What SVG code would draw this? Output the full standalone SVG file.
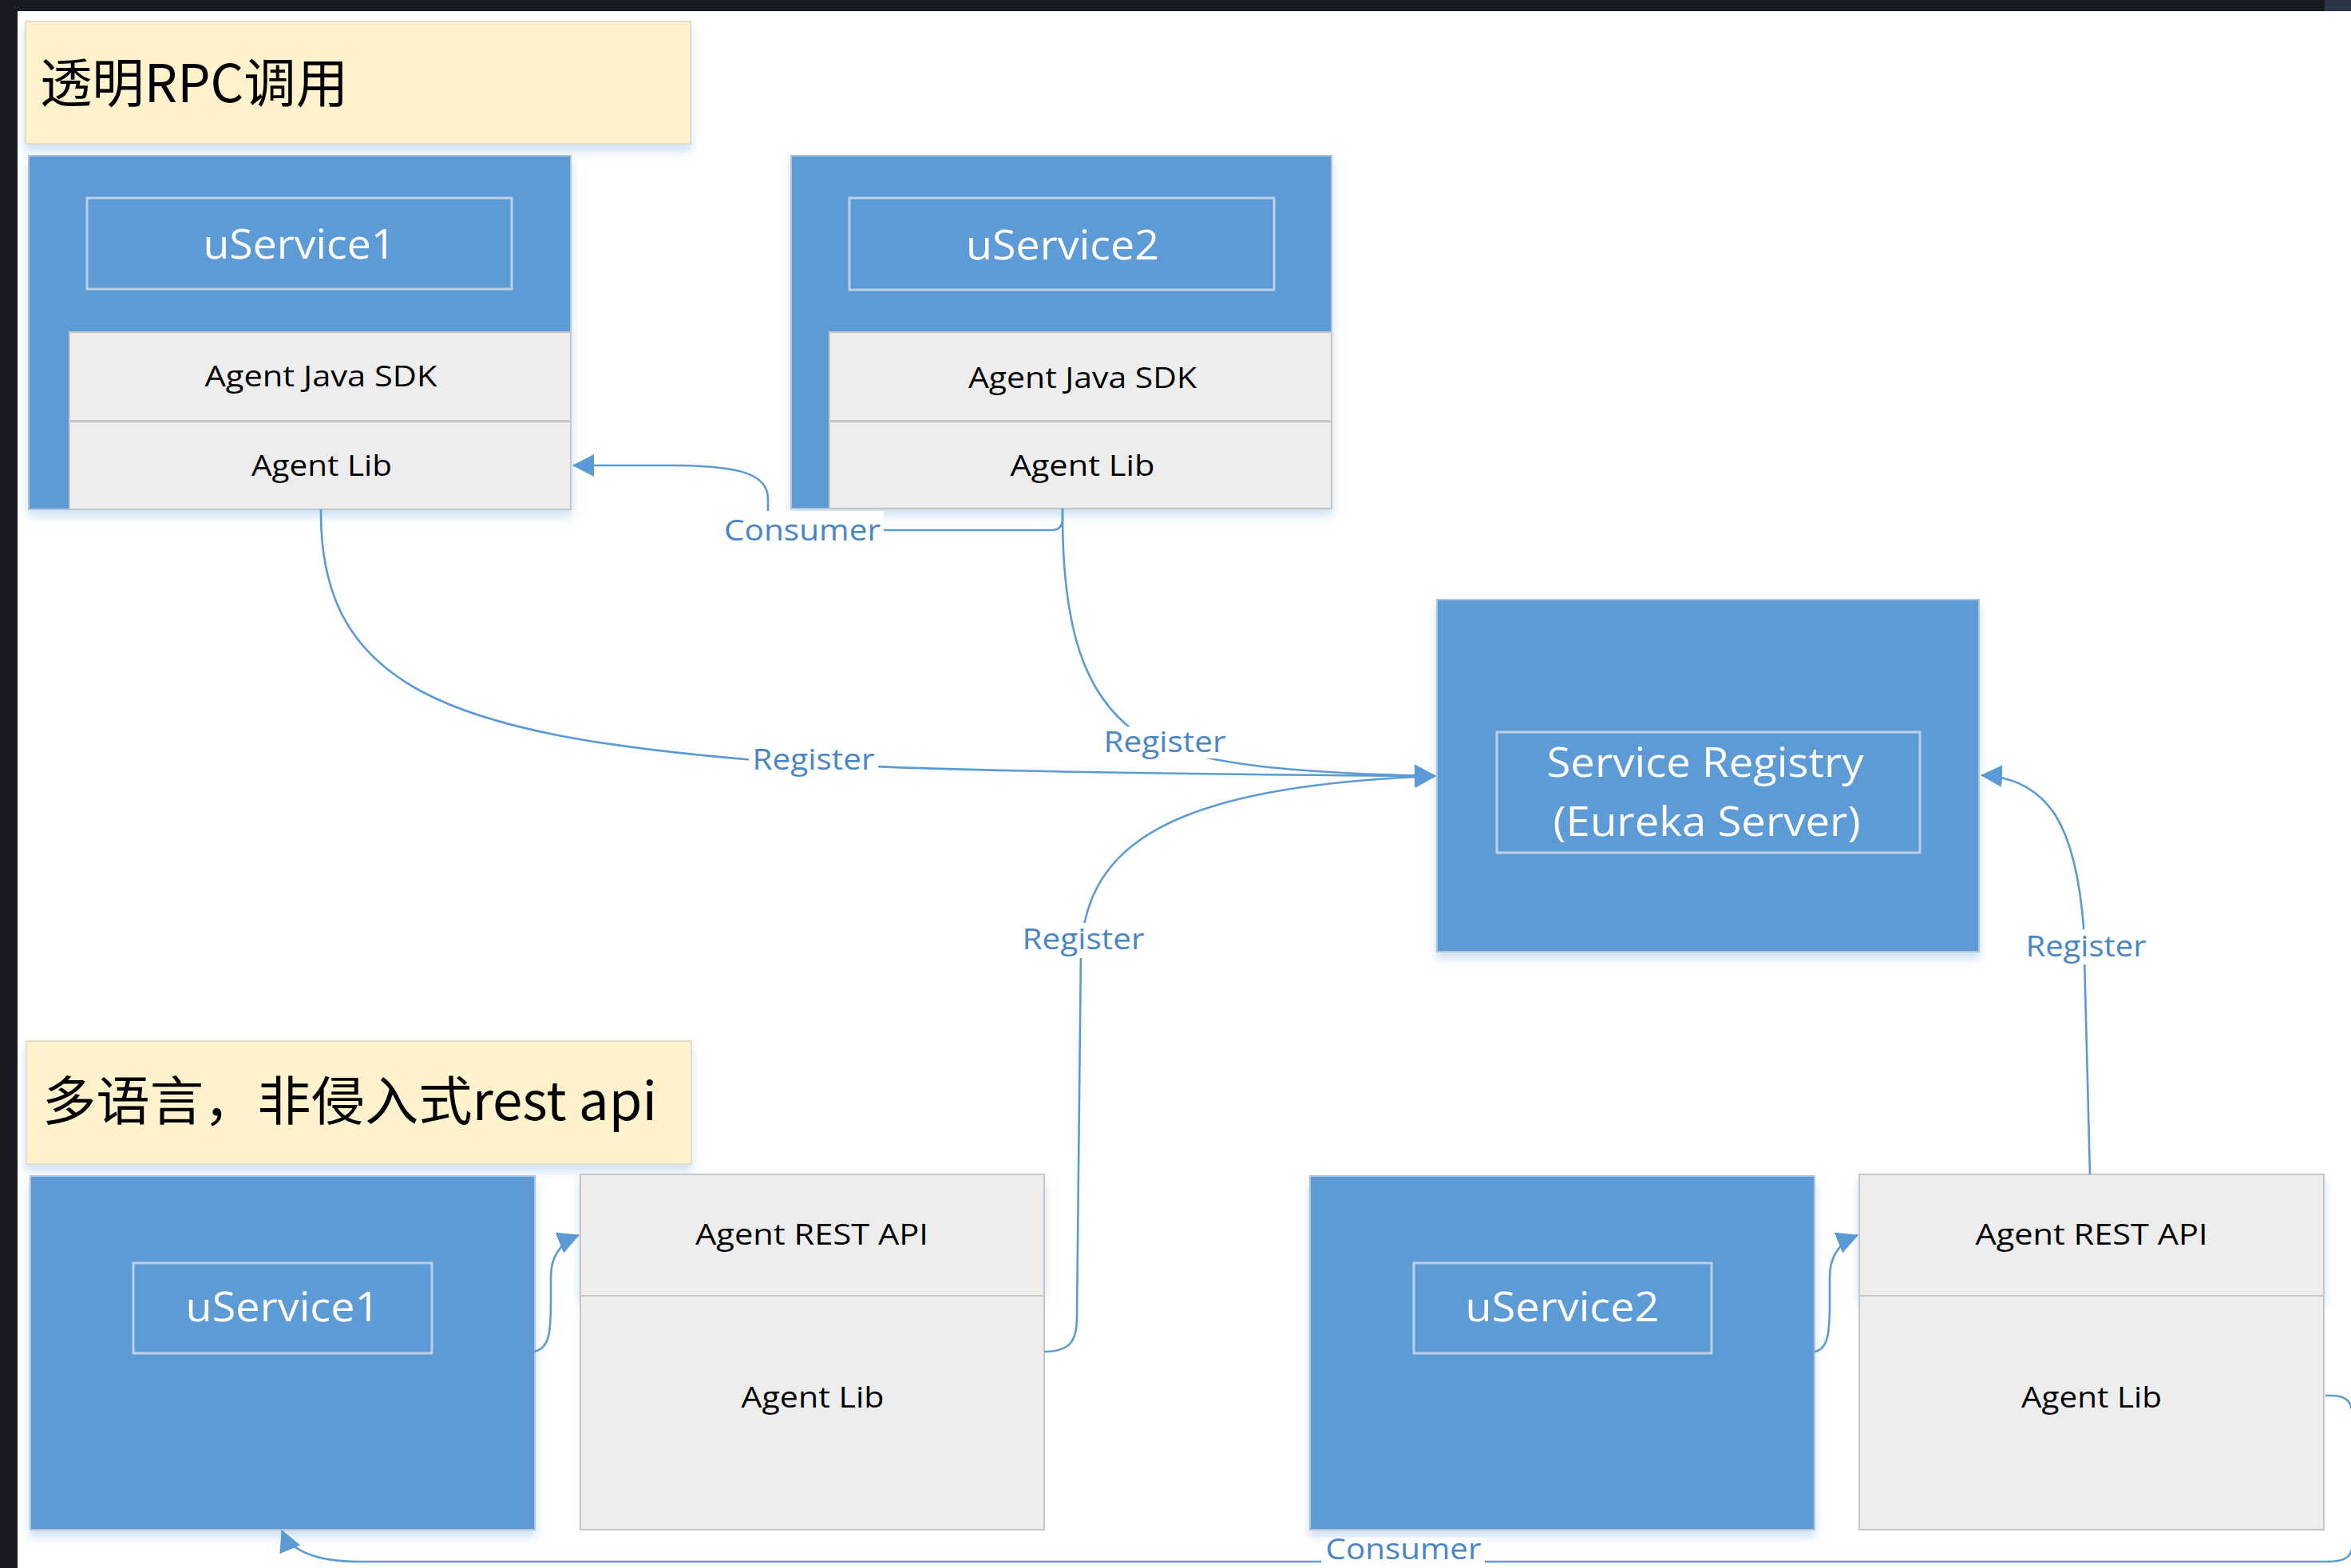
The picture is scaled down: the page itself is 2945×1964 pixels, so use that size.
<svg xmlns="http://www.w3.org/2000/svg" width="2945" height="1964" viewBox="0 0 2945 1964">
<defs>
<style>
.frame{fill:#181b23}
.title{fill:#FFF2CC;stroke:#E3DCC8;stroke-width:2}
.blue{fill:#5B9BD5;stroke:#B4C4D6;stroke-width:2}
.inner{fill:none;stroke:#BDD0E6;stroke-width:3}
.gray{fill:#EDEDED;stroke:#C6C6C6;stroke-width:2}
.cn{fill:none;stroke:#5B9BD5;stroke-width:2.6}
.lbg{fill:#FFFFFF}
.tt{font-family:"Noto Sans CJK SC","Noto Sans",sans-serif;font-size:66px;fill:#000}
.wt{font-family:"Open Sans","Liberation Sans",sans-serif;font-size:52px;fill:#FFFFFF;text-anchor:middle}
.bt{font-family:"Open Sans","Liberation Sans",sans-serif;font-size:37px;fill:#000;text-anchor:middle}
.lt{font-family:"Open Sans","Liberation Sans",sans-serif;font-size:37px;fill:#4A86C5;text-anchor:middle}
</style>
<filter id="sh" x="-10%" y="-10%" width="120%" height="130%">
<feDropShadow dx="0" dy="8" stdDeviation="6" flood-color="#5B9BD5" flood-opacity="0.3"/>
</filter>
<marker id="arr" markerUnits="userSpaceOnUse" markerWidth="27" markerHeight="28" viewBox="0 0 27 28" refX="26" refY="14" orient="auto">
<path d="M0,0 L27,14 L0,28 z" fill="#5B9BD5"/>
</marker>
</defs>

<rect x="0" y="0" width="2945" height="1964" fill="#FFFFFF"/>
<rect class="frame" x="0" y="0" width="2945" height="14"/>
<rect x="2912" y="0" width="33" height="14" fill="#2B3648"/>
<rect class="frame" x="0" y="0" width="22" height="1964"/>

<g id="title-rpc">
<rect class="title" x="32" y="27" width="833" height="153" filter="url(#sh)"/>
<text class="tt" x="50" y="128" textLength="386" lengthAdjust="spacingAndGlyphs">透明RPC调用</text>
</g>

<g id="top-uservice1">
<rect class="blue" x="36" y="195" width="679" height="443" filter="url(#sh)"/>
<rect class="inner" x="109" y="248" width="532" height="114"/>
<text class="wt" x="375" y="324" textLength="241" lengthAdjust="spacingAndGlyphs">uService1</text>
<rect class="gray" x="87" y="416" width="628" height="111"/>
<text class="bt" x="402" y="484" textLength="291" lengthAdjust="spacingAndGlyphs">Agent Java SDK</text>
<rect class="gray" x="87" y="528" width="628" height="110"/>
<text class="bt" x="403" y="596" textLength="176" lengthAdjust="spacingAndGlyphs">Agent Lib</text>
</g>

<g id="top-uservice2">
<rect class="blue" x="991" y="195" width="677" height="442" filter="url(#sh)"/>
<rect class="inner" x="1064" y="248" width="532" height="115"/>
<text class="wt" x="1331" y="325" textLength="242" lengthAdjust="spacingAndGlyphs">uService2</text>
<rect class="gray" x="1039" y="416" width="629" height="111"/>
<text class="bt" x="1356" y="486" textLength="286" lengthAdjust="spacingAndGlyphs">Agent Java SDK</text>
<rect class="gray" x="1039" y="528" width="629" height="109"/>
<text class="bt" x="1356" y="596" textLength="181" lengthAdjust="spacingAndGlyphs">Agent Lib</text>
</g>

<g id="service-registry">
<rect class="blue" x="1800" y="751" width="679" height="441" filter="url(#sh)"/>
<rect class="inner" x="1875" y="917" width="530" height="151"/>
<text class="wt" x="2136" y="973" textLength="397" lengthAdjust="spacingAndGlyphs">Service Registry</text>
<text class="wt" x="2138" y="1047" textLength="385" lengthAdjust="spacingAndGlyphs">(Eureka Server)</text>
</g>

<g id="title-rest">
<rect class="title" x="33" y="1304" width="833" height="154" filter="url(#sh)"/>
<text class="tt" x="53" y="1403" textLength="770" lengthAdjust="spacingAndGlyphs">多语言，非侵入式rest api</text>
</g>

<g id="bottom-uservice1">
<rect class="blue" x="38" y="1473" width="632" height="443" filter="url(#sh)"/>
<rect class="inner" x="167" y="1582" width="374" height="113"/>
<text class="wt" x="354" y="1655" textLength="243" lengthAdjust="spacingAndGlyphs">uService1</text>
</g>

<g id="bottom-agent1">
<rect class="gray" x="727" y="1471" width="581" height="152" filter="url(#sh)"/>
<text class="bt" x="1017" y="1559" textLength="292" lengthAdjust="spacingAndGlyphs">Agent REST API</text>
<rect class="gray" x="727" y="1623" width="581" height="293"/>
<text class="bt" x="1018" y="1763" textLength="179" lengthAdjust="spacingAndGlyphs">Agent Lib</text>
</g>

<g id="bottom-uservice2">
<rect class="blue" x="1641" y="1473" width="632" height="443" filter="url(#sh)"/>
<rect class="inner" x="1771" y="1582" width="373" height="113"/>
<text class="wt" x="1957" y="1655" textLength="243" lengthAdjust="spacingAndGlyphs">uService2</text>
</g>

<g id="bottom-agent2">
<rect class="gray" x="2329" y="1471" width="582" height="152" filter="url(#sh)"/>
<text class="bt" x="2620" y="1559" textLength="291" lengthAdjust="spacingAndGlyphs">Agent REST API</text>
<rect class="gray" x="2329" y="1623" width="582" height="293"/>
<text class="bt" x="2620" y="1763" textLength="176" lengthAdjust="spacingAndGlyphs">Agent Lib</text>
</g>

<g id="connectors">
<path class="cn" d="M1331,637 V650 Q1331,664 1317,664 H980 Q962,664 962,648 V625 C962,595 930,584 850,583 H718" marker-end="url(#arr)"/>
<path class="cn" d="M402,638 C400,860 560,920 945,952 C1100,965 1500,970 1798,972" marker-end="url(#arr)"/>
<path class="cn" d="M1331,637 C1330,790 1360,870 1420,915 C1480,955 1600,968 1798,972" marker-end="url(#arr)"/>
<path class="cn" d="M1308,1693 C1340,1693 1349,1680 1349,1650 L1354,1190 C1362,1060 1460,985 1798,972" marker-end="url(#arr)"/>
<path class="cn" d="M2618,1471 L2610,1160 C2600,1040 2570,975 2482,971" marker-end="url(#arr)"/>
<path class="cn" d="M668,1693 C688,1690 690,1670 690,1630 L690,1600 C690,1575 700,1557 725,1547" marker-end="url(#arr)"/>
<path class="cn" d="M2273,1693 C2290,1690 2292,1670 2292,1630 L2292,1600 C2292,1575 2302,1557 2327,1547" marker-end="url(#arr)"/>
<path class="cn" d="M2913,1748 H2920 C2945,1748 2948,1760 2948,1790 V1925 C2948,1950 2940,1956 2915,1956 H450 C400,1956 365,1945 353,1917" marker-end="url(#arr)"/>
<g id="connector-labels">
<rect class="lbg" x="903" y="640" width="204" height="44"/>
<text class="lt" x="1005" y="677" textLength="196" lengthAdjust="spacingAndGlyphs">Consumer</text>
<rect class="lbg" x="938" y="932" width="162" height="42"/>
<text class="lt" x="1019" y="964" textLength="153" lengthAdjust="spacingAndGlyphs">Register</text>
<rect class="lbg" x="1378" y="910" width="162" height="40"/>
<text class="lt" x="1459" y="942" textLength="153" lengthAdjust="spacingAndGlyphs">Register</text>
<rect class="lbg" x="1276" y="1156" width="162" height="44"/>
<text class="lt" x="1357" y="1189" textLength="153" lengthAdjust="spacingAndGlyphs">Register</text>
<rect class="lbg" x="2533" y="1164" width="161" height="44"/>
<text class="lt" x="2613" y="1198" textLength="151" lengthAdjust="spacingAndGlyphs">Register</text>
<rect class="lbg" x="1655" y="1926" width="205" height="38"/>
<text class="lt" x="1758" y="1953" font-size="30" textLength="195" lengthAdjust="spacingAndGlyphs">Consumer</text>
</g>
</g>
</svg>
